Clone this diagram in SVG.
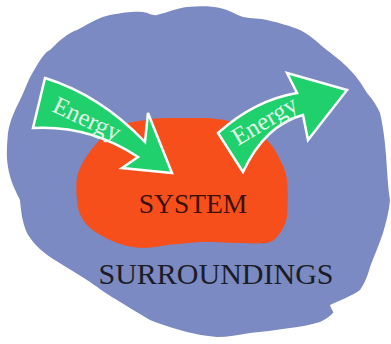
<svg xmlns="http://www.w3.org/2000/svg" width="391" height="344" viewBox="0 0 391 344">
<style>
.arrow{fill:#1fd06c;stroke:#ffffff;stroke-width:2.5;stroke-linejoin:miter}
.elbl{font-family:"Liberation Serif","Times New Roman",serif;font-size:25px;fill:#e2f7e8}
.lbl{font-family:"Liberation Serif","Times New Roman",serif}
</style>
<rect width="391" height="344" fill="#ffffff"/>
<g id="surroundings">
<path fill="#7b8ac2" d="M33,72 C40,60 45,52 50,50 C60,40 68,33 77,30 C92,22 100,17 110,15 C125,12 135,11 143,12 C150,13 152,16 157,15 C168,12 178,8 187,7 C200,6 212,6 220,8 C230,10 236,15 243,17 C252,19 260,18 267,20 C280,23 290,26 300,30 C310,35 316,41 323,47 C333,55 343,62 350,70 C358,78 362,85 367,93 C373,100 377,106 380,113 C384,130 386,150 387,170 C388,185 389,195 390,200 C389,212 386,222 383,233 C379,245 374,256 370,267 C367,278 364,284 360,290 C352,296 340,300 330,305 C331,309 334,312 333,313 C328,318 324,320 320,322 C310,325 300,327 290,328 C275,330 262,332 250,333 C238,335 228,337 217,337 C205,336 196,334 187,332 C172,328 160,324 150,320 C138,313 127,306 117,300 C105,293 96,286 87,280 C75,272 62,265 50,257 C40,250 32,242 27,233 C22,222 21,210 20,200 C15,190 10,180 8,167 C6,155 7,145 8,133 C10,120 15,110 20,100 C25,90 28,80 33,72 Z"/>
<text class="lbl" x="216" y="284" font-size="30" fill="#1c1c26" text-anchor="middle">SURROUNDINGS</text>
</g>
<g id="system">
<path fill="#f74f1c" d="M97,143 C105,132 118,124 133,122 C145,120 155,118 167,118 C180,118 195,118 207,118 C220,119 233,121 243,125 C253,129 261,134 267,140 C273,146 277,153 280,160 C284,167 286,173 287,180 C288,190 288,205 287,217 C285,225 283,229 280,233 C276,239 272,242 267,243 C255,244 245,243 233,243 C220,242 210,242 200,242 C188,243 178,244 167,245 C158,247 148,248 140,248 C130,247 123,245 117,243 C110,240 103,237 97,233 C91,229 86,225 83,220 C79,213 77,207 77,200 C76,192 76,184 77,177 C80,165 88,153 97,143 Z"/>
<text class="lbl" x="193" y="213" font-size="27.5" fill="#3a1208" text-anchor="middle">SYSTEM</text>
</g>
<g id="connectors">
<g id="energy-in">
<path class="arrow" d="M45,78 Q100,95 145,142 L148,113 L172,173 L122,168 L138,157 Q90,125 33,128 Z"/>
<text class="elbl" transform="translate(51,111) rotate(25)">Energy</text>
</g>
<g id="energy-out">
<path class="arrow" d="M243,172 L218,133 Q255,100 297,93 L287,73 L347,90 L308,140 L303,115 Q265,125 243,172 Z"/>
<text class="elbl" transform="translate(238,146) rotate(-31)">Energy</text>
</g>
</g>
</svg>
